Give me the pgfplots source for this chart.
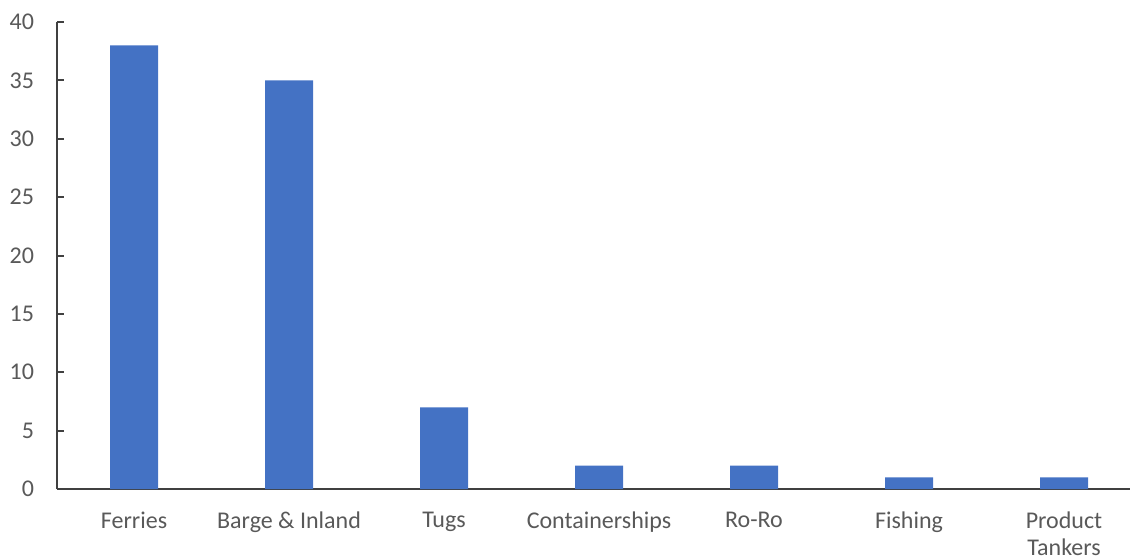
\documentclass[border=0pt]{standalone}
\usepackage{fontspec}
\setmainfont{Carlito}
\usepackage{pgfplots}
\pgfplotsset{compat=1.18}
\definecolor{barblue}{HTML}{4472C4}
\definecolor{labelgray}{HTML}{595959}
\definecolor{axisgray}{HTML}{404040}

\begin{document}
\begin{tikzpicture}[x=0.75pt,y=0.75pt]
% page frame, in pixel units measured from the lower-left corner of the axis
\path[use as bounding box] (-57,-69) rectangle (1073,489);
\begin{axis}[
  at={(0,0)}, anchor=south west,
  scale only axis,
  % 116.25pt per category; the axis runs on past the right edge of the page
  width=825pt, height=350.25pt,
  xmin=-0.497, xmax=6.6,
  ymin=0, ymax=40,
  ytick={0,5,...,40},
  xtick={0,...,6},
  xticklabels={Ferries, Barge \& Inland, Tugs, Containerships, Ro-Ro, Fishing, {Product\\Tankers}},
  axis x line=bottom, axis y line=left,
  axis line style={-, axisgray, line width=1.5pt},
  x axis line style={shorten >=-20pt},
  tick align=inside,
  major tick length=5pt,
  ytick style={axisgray, line width=1.5pt},
  xtick style={draw=none},
  font=\fontsize{18}{20}\selectfont,
  tick label style={labelgray},
  /pgf/number format/assume math mode=true,
  yticklabel style={anchor=east, inner sep=0pt, xshift=-17pt},
  xticklabel style={anchor=north, inner sep=0pt, yshift=-17pt, align=center},
  clip=false,
]
\addplot[ybar, bar width=36pt, fill=barblue, draw=none] coordinates {
  (0,38) (1,35) (2,7) (3,2) (4,2) (5,1) (6,1)
};
\end{axis}
\end{tikzpicture}
\end{document}
